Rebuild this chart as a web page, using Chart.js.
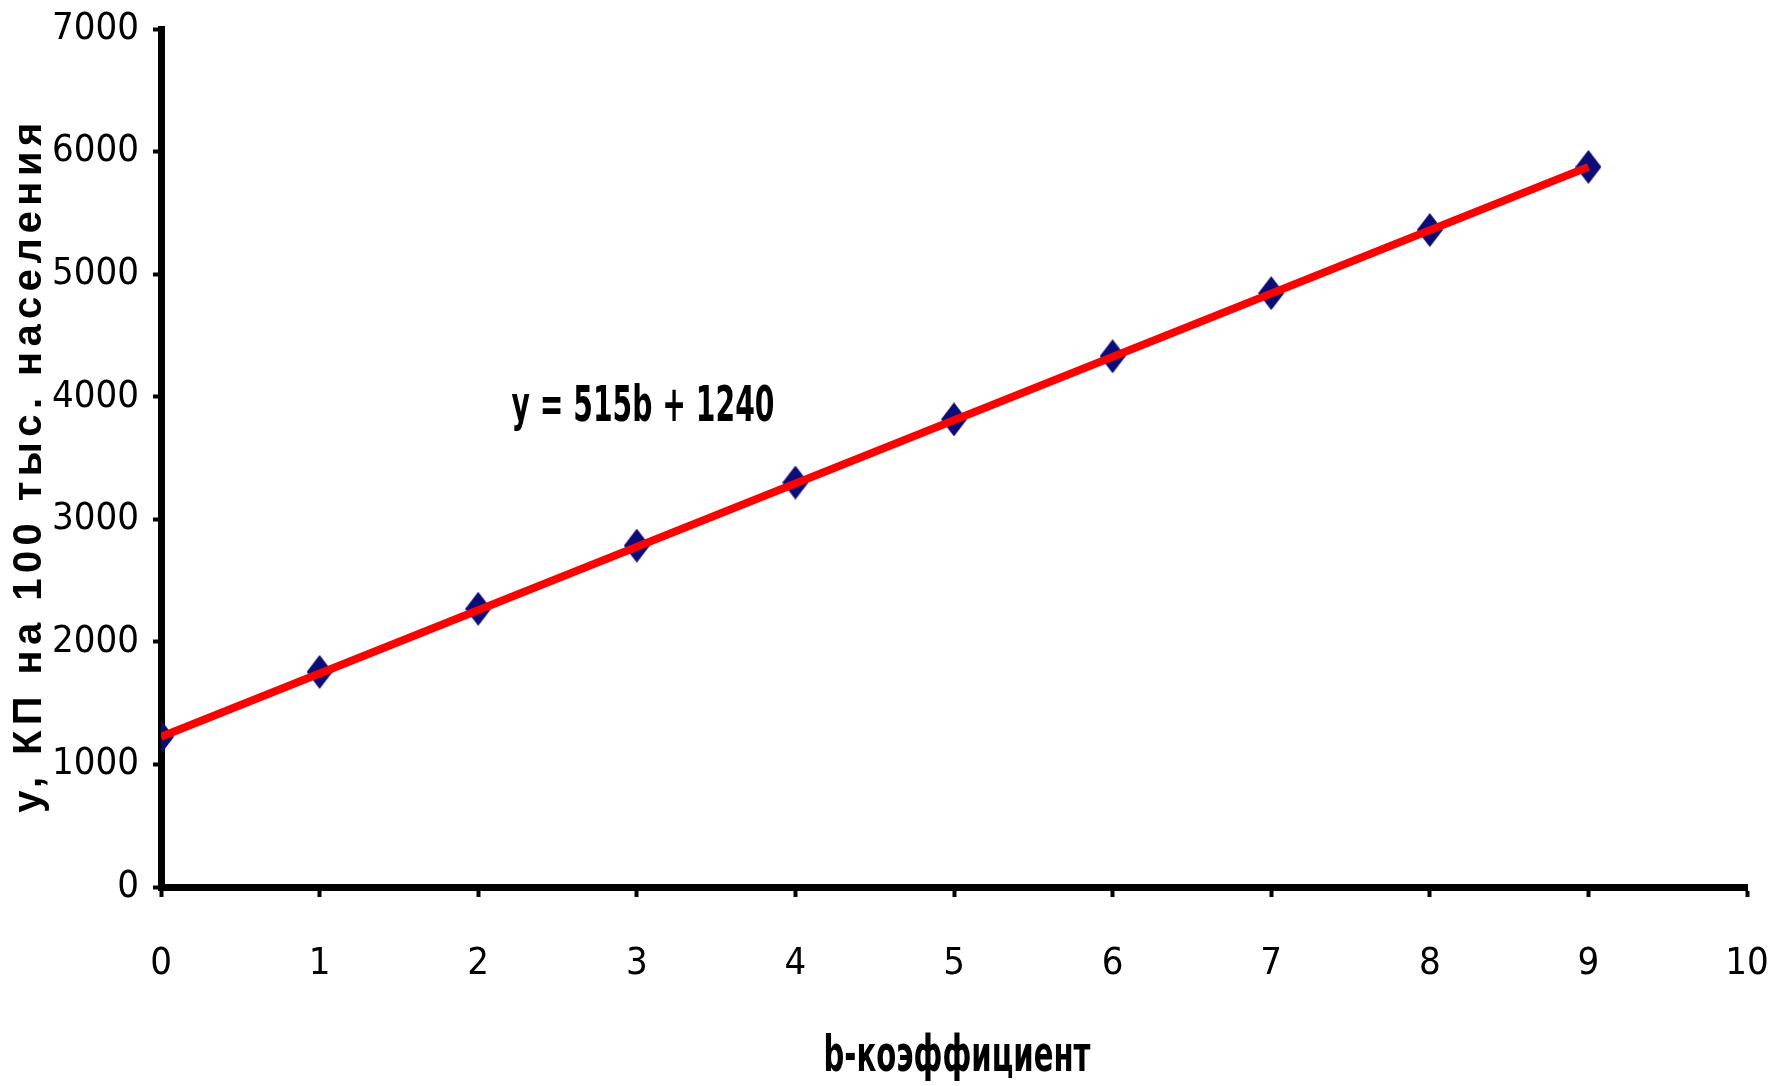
<!DOCTYPE html>
<html>
<head>
<meta charset="utf-8">
<script src="https://cdn.jsdelivr.net/npm/chart.js@4"></script>
<style>
  html, body { margin: 0; padding: 0; background: #fff; }
  #wrap { width: 1786px; height: 1086px; }
</style>
</head>
<body>
<div id="wrap"><canvas id="chart" width="1786" height="1086"></canvas></div>
<script>
// данные
const bValues = [0, 1, 2, 3, 4, 5, 6, 7, 8, 9];
const kpValues = [1225, 1755, 2270, 2785, 3300, 3815, 4330, 4845, 5360, 5875];
const yTicks = [0, 1000, 2000, 3000, 4000, 5000, 6000, 7000];
const xTicks = [0, 1, 2, 3, 4, 5, 6, 7, 8, 9, 10];
const xTitle = 'b-коэффициент';
const yTitle = 'у, КП на 100 тыс. населения';
const equation = 'y = 515b + 1240';

const narrow = '"Liberation Sans Narrow", "DejaVu Sans Condensed", "Arial Narrow", sans-serif';

// маркер - вытянутый ромб
function makeDiamond(w, h, color) {
  const c = document.createElement('canvas');
  c.width = w;
  c.height = h;
  const g = c.getContext('2d');
  g.fillStyle = color;
  g.beginPath();
  g.moveTo(w / 2, 0);
  g.lineTo(w, h / 2);
  g.lineTo(w / 2, h);
  g.lineTo(0, h / 2);
  g.closePath();
  g.fill();
  return c;
}
const diamond = makeDiamond(26, 34, '#0b0b7a');

// сжатый по ширине текст
function drawNarrowText(ctx, text, font, x, y, width, align) {
  ctx.save();
  ctx.font = font;
  const w = ctx.measureText(text).width;
  const sx = width / w;
  ctx.translate(x, y);
  ctx.scale(sx, 1);
  ctx.fillStyle = '#000';
  ctx.textAlign = align;
  ctx.textBaseline = 'middle';
  ctx.fillText(text, 0, 0);
  ctx.restore();
}

// подписи осей
const titlesPlugin = {
  id: 'titlesPlugin',
  afterDraw(chart) {
    const { ctx, chartArea } = chart;
    // ось Y, с разрядкой
    ctx.save();
    ctx.translate(30, (chartArea.top + chartArea.bottom) / 2 + 7);
    ctx.rotate(-Math.PI / 2);
    ctx.font = 'bold 40px "Liberation Sans", Arial, sans-serif';
    ctx.letterSpacing = '5.4px';
    ctx.fillStyle = '#000';
    ctx.textAlign = 'center';
    ctx.textBaseline = 'middle';
    ctx.fillText(yTitle, 0, 0);
    ctx.restore();
    // ось X
    drawNarrowText(ctx, xTitle, `bold 50px ${narrow}`,
      (chartArea.left + chartArea.right) / 2 + 3, 1058, 267, 'center');
  },
};

// уравнение тренда
const equationPlugin = {
  id: 'equationPlugin',
  afterDraw(chart) {
    const { ctx, scales: { x, y } } = chart;
    drawNarrowText(ctx, equation, `bold 50px ${narrow}`,
      x.getPixelForValue(2.21), y.getPixelForValue(3910), 263, 'left');
  },
};

const points = bValues.map((b, i) => ({ x: b, y: kpValues[i] }));

const chart = new Chart(document.getElementById('chart'), {
  type: 'scatter',
  data: {
    datasets: [
      {
        data: [points[0], points[points.length - 1]],
        showLine: true,
        borderColor: '#ff0000',
        borderWidth: 8,
        pointRadius: 0,
        order: 0,
      },
      {
        data: points,
        pointStyle: diamond,
        pointRadius: 13,
        order: 1,
      },
    ],
  },
  options: {
    responsive: false,
    animation: false,
    layout: { padding: { left: 0, right: 39, top: 29, bottom: 0 } },
    plugins: {
      legend: { display: false },
      tooltip: { enabled: false },
    },
    scales: {
      x: {
        type: 'linear',
        min: 0,
        max: 10,
        afterBuildTicks(scale) { scale.ticks = xTicks.map((v) => ({ value: v })); },
        afterFit(scale) {
          scale.height = 1086 - 887;
          scale.paddingLeft = 0;
          scale.paddingRight = 0;
        },
        grid: {
          drawOnChartArea: false,
          drawTicks: true,
          tickLength: 10,
          tickWidth: 4,
          tickColor: '#000',
        },
        border: { display: true, color: '#000', width: 7 },
        ticks: {
          color: '#000',
          padding: 44,
          font: { family: narrow, size: 38 },
          callback: (v) => String(v),
        },
      },
      y: {
        min: 0,
        max: 7000,
        afterBuildTicks(scale) { scale.ticks = yTicks.map((v) => ({ value: v })); },
        afterFit(scale) {
          scale.width = 161;
          scale.paddingTop = 0;
          scale.paddingBottom = 0;
        },
        grid: {
          drawOnChartArea: false,
          drawTicks: true,
          tickLength: 8,
          tickWidth: 4,
          tickColor: '#000',
        },
        border: { display: true, color: '#000', width: 7 },
        ticks: {
          color: '#000',
          padding: 14,
          font: { family: narrow, size: 38 },
          callback: (v) => String(v),
        },
      },
    },
  },
  plugins: [titlesPlugin, equationPlugin],
});
</script>
</body>
</html>
